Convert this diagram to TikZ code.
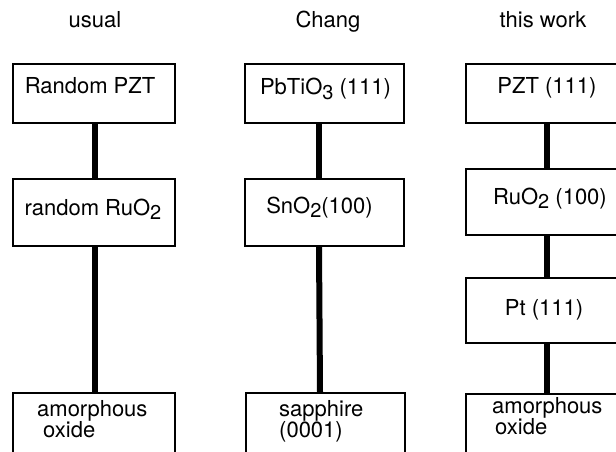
\documentclass[tikz,border=0pt]{standalone}
\usepackage{fontspec}
\setmainfont{TeX Gyre Heros}
\newcommand{\lowsub}[1]{\raisebox{-4.5pt}{\fontsize{20}{20}\selectfont #1}}
\begin{document}
\begin{tikzpicture}[x=1pt,y=-1pt,
  box/.style={draw=black, line width=2pt, rectangle, inner sep=0pt, minimum width=162pt},
  conn/.style={line width=6pt},
  lbl/.style={font=\fontsize{22}{22}\selectfont, inner sep=0pt, anchor=base},
  lbll/.style={font=\fontsize{22}{22}\selectfont, inner sep=0pt, anchor=base west},
  ttl/.style={font=\fontsize{22}{22}\selectfont, inner sep=0pt, anchor=base}]
\useasboundingbox[fill=white] (0,0) rectangle (616,452);
% titles
\node[ttl] (t1) at (95,28) {usual};
\node[ttl] (t2) at (328,28) {Chang};
\node[ttl] (t3) at (543,28) {this work};
% column 1
\node[box, minimum height=59pt] (a1) at (94,93.5) {};
\node[box, minimum height=67pt] (a2) at (94,212) {};
\node[box, minimum height=87pt] (a3) at (94,436.5) {};
% column 2
\node[box, minimum width=159pt, minimum height=59pt] (b1) at (324.5,93.5) {};
\node[box, minimum width=159pt, minimum height=67pt] (b2) at (324.5,212) {};
\node[box, minimum width=159pt, minimum height=87pt] (b3) at (325.5,436.5) {};
% column 3
\node[box, minimum width=164pt, minimum height=59pt] (c1) at (548,93.5) {};
\node[box, minimum width=164pt, minimum height=66pt] (c2) at (548,202) {};
\node[box, minimum width=164pt, minimum height=65pt] (c3) at (548,310.5) {};
\node[box, minimum width=164pt, minimum height=86pt] (c4) at (548,437) {};
% connectors
\draw[conn] ([xshift=1pt]a1.south) -- ([xshift=1pt]a2.north);
\draw[conn] ([xshift=1pt]a2.south) -- ([xshift=1pt]a3.north);
\draw[conn] ([xshift=-5.5pt]b1.south) -- ([xshift=-5.5pt]b2.north);
\draw[conn] ([xshift=-5.5pt]b2.south) -- ([xshift=-5.5pt]b3.north);
\draw[conn] ([xshift=-1pt]c1.south) -- ([xshift=-1pt]c2.north);
\draw[conn] ([xshift=-1pt]c2.south) -- ([xshift=-1pt]c3.north);
\draw[conn] ([xshift=-1pt]c3.south) -- ([xshift=-1pt]c4.north);
% labels
\node[lbl] (a1t) at (90,94) {Random PZT};
\node[lbl] (a2t) at (93,215) {random RuO\lowsub{2}};
\node[lbll] (a3t1) at (37,416) {amorphous};
\node[lbll] (a3t2) at (43,437) {oxide};
\node[lbl] (b1t) at (325.5,95) {PbTiO\lowsub{3} (111)};
\node[lbl] (b2t) at (319.5,213) {SnO\lowsub{2}(100)};
\node[lbll] (b3t1) at (279,416) {sapphire};
\node[lbll] (b3t2) at (279,437) {(0001)};
\node[lbl] (c1t) at (547,94) {PZT (111)};
\node[lbl] (c2t) at (550,204) {RuO\lowsub{2} (100)};
\node[lbl] (c3t) at (544,315) {Pt (111)};
\node[lbll] (c4t1) at (492,413) {amorphous};
\node[lbll] (c4t2) at (495,434) {oxide};
\end{tikzpicture}
\end{document}
